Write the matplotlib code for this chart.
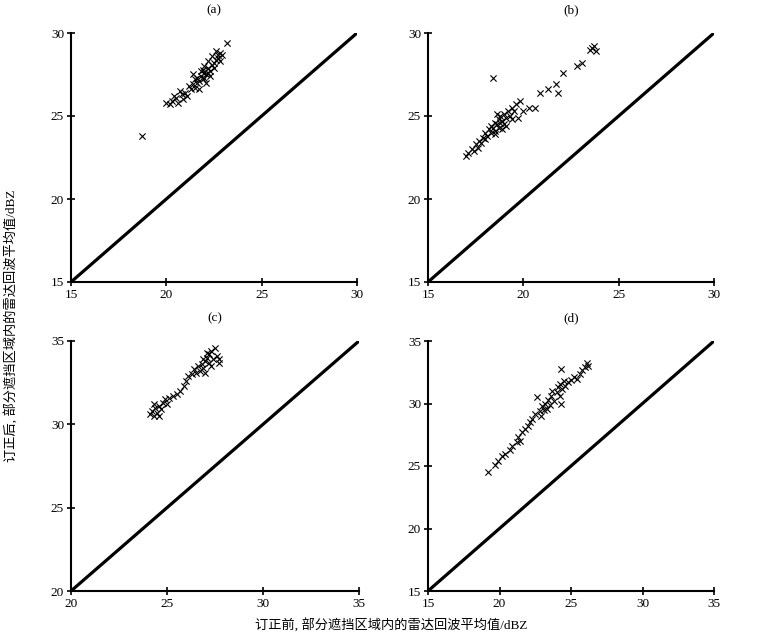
import matplotlib
matplotlib.use('Agg')
import matplotlib.pyplot as plt

plt.rcParams['font.family'] = ['Liberation Serif', 'Noto Sans CJK SC']

# (a)
a_x = [20.0, 20.2, 20.3, 20.5, 20.6, 20.4, 20.8, 20.9, 21.0, 21.1, 21.3, 21.2, 21.4, 21.5,
       21.6, 21.5, 21.7, 21.8, 21.9, 22.0, 21.9, 22.1, 22.2, 22.0, 22.3, 22.4, 22.2, 22.5,
       22.3, 22.1, 22.6, 22.4, 22.7, 22.8, 22.6, 22.9, 23.2, 22.0, 21.7, 20.7, 21.4, 22.5,
       22.8, 21.8, 22.2, 21.6, 22.7, 18.7]
a_y = [25.8, 25.7, 25.9, 26.1, 25.8, 26.2, 26.3, 26.0, 26.4, 26.2, 26.6, 26.8, 26.9, 26.7,
       27.0, 27.2, 27.1, 27.4, 27.2, 27.6, 27.8, 27.5, 27.9, 28.0, 27.7, 28.1, 28.3, 28.2,
       27.4, 27.0, 28.4, 28.6, 28.5, 28.8, 28.9, 28.7, 29.4, 27.3, 26.6, 26.5, 27.5, 27.9,
       28.3, 27.7, 27.6, 27.3, 28.7, 23.8]

# (b)
b_x = [17.0, 17.1, 17.3, 17.4, 17.5, 17.6, 17.7, 17.8, 17.9, 18.0, 18.0, 18.1, 18.2, 18.3,
       18.3, 18.4, 18.5, 18.5, 18.6, 18.7, 18.7, 18.8, 18.8, 18.9, 19.0, 19.0, 19.1, 19.2,
       19.3, 19.4, 19.5, 19.6, 19.8, 19.4, 18.6, 18.4, 19.7, 20.0, 20.3, 20.6, 20.9, 21.3,
       21.7, 21.8, 22.1, 22.8, 23.1, 23.5, 23.7, 23.8, 23.6, 18.9, 18.5, 19.1]
b_y = [22.6, 22.8, 23.0, 22.9, 23.3, 23.1, 23.5, 23.4, 23.7, 23.6, 24.0, 23.8, 24.2, 24.0,
       24.4, 24.3, 24.6, 24.1, 24.5, 24.8, 24.3, 24.6, 25.0, 24.7, 25.1, 24.5, 24.9, 25.3,
       25.0, 25.5, 25.3, 25.7, 25.9, 24.8, 25.1, 27.3, 24.9, 25.3, 25.5, 25.5, 26.4, 26.6,
       26.9, 26.4, 27.6, 28.0, 28.2, 29.0, 29.2, 28.9, 29.1, 24.2, 23.9, 24.4]

# (c)
c_x = [24.1, 24.2, 24.3, 24.4, 24.5, 24.6, 24.7, 24.8, 24.9, 25.0, 25.1, 25.3, 25.5, 25.7,
       25.9, 26.0, 26.1, 26.3, 26.4, 26.5, 26.6, 26.7, 26.8, 26.9, 27.0, 27.0, 27.1, 27.2,
       27.2, 27.3, 27.4, 27.5, 27.6, 27.7, 27.7, 27.3, 26.9, 27.1, 24.3, 24.6]
c_y = [30.6, 30.8, 30.5, 31.0, 30.7, 31.1, 30.9, 31.3, 31.5, 31.2, 31.6, 31.7, 31.8, 32.0,
       32.3, 32.6, 32.9, 33.0, 33.3, 33.1, 33.5, 33.2, 33.6, 33.4, 33.8, 33.1, 34.0, 33.7,
       34.2, 34.4, 33.9, 34.6, 34.1, 33.7, 33.9, 33.5, 33.9, 34.3, 31.2, 30.5]

# (d)
d_x = [19.2, 19.7, 19.9, 20.2, 20.4, 20.7, 20.9, 21.2, 21.3, 21.4, 21.6, 21.8, 22.0, 22.1,
       22.3, 22.5, 22.6, 22.8, 22.9, 23.0, 23.1, 23.2, 23.3, 23.4, 23.5, 23.6, 23.8, 24.0,
       24.1, 24.2, 24.2, 24.3, 24.4, 24.5, 24.6, 24.8, 25.0, 25.2, 25.4, 25.6, 25.8, 26.0,
       26.1, 26.2, 24.3, 23.7]
d_y = [24.5, 25.1, 25.4, 25.8, 26.0, 26.3, 26.6, 26.9, 27.3, 27.0, 27.7, 28.0, 28.2, 28.5,
       28.8, 29.2, 30.5, 29.4, 29.0, 29.8, 29.5, 30.0, 29.6, 30.3, 29.9, 30.6, 30.2, 30.9,
       31.3, 30.6, 31.6, 32.8, 31.2, 31.8, 31.4, 31.7, 31.9, 32.1, 32.0, 32.4, 32.7, 32.9,
       33.2, 33.0, 30.0, 31.0]

panels = [
    ('(a)', a_x, a_y, (15, 30), [15, 20, 25, 30]),
    ('(b)', b_x, b_y, (15, 30), [15, 20, 25, 30]),
    ('(c)', c_x, c_y, (20, 35), [20, 25, 30, 35]),
    ('(d)', d_x, d_y, (15, 35), [15, 20, 25, 30, 35]),
]

W, H = 759, 638
# pixel boxes (left, top, right, bottom) of each panel
rects = [(71, 33, 357, 282), (428, 33, 714, 282),
         (71, 341, 359, 591), (428, 341, 714, 591)]

fig = plt.figure(figsize=(W / 100, H / 100), dpi=100)
fig.patch.set_facecolor('white')

for (title, xs, ys, lim, ticks), (l, t, r, b) in zip(panels, rects):
    ax = fig.add_axes([l / W, 1 - b / H, (r - l) / W, (b - t) / H])
    ax.plot(lim, lim, color='black', linewidth=2.3, solid_capstyle='round', zorder=2)
    ax.scatter(xs, ys, marker='x', s=20, color='black', linewidths=0.8, zorder=3)
    ax.set_xlim(lim)
    ax.set_ylim(lim)
    ax.set_xticks(ticks)
    ax.set_yticks(ticks)
    for s in ['top', 'right']:
        ax.spines[s].set_visible(False)
    for s in ['left', 'bottom']:
        ax.spines[s].set_linewidth(1.5)
    ax.tick_params(direction='inout', length=6, width=1.2, labelsize=9.5, pad=2)
    ax.set_title(title, fontsize=9.5, pad=14)

fig.text(0.016, 0.49, '订正后, 部分遮挡区域内的雷达回波平均值/dBZ', rotation=90,
         ha='center', va='center', fontsize=9.5)
fig.text(0.516, 0.02, '订正前, 部分遮挡区域内的雷达回波平均值/dBZ',
         ha='center', va='center', fontsize=9.5)

fig.savefig('out.png', dpi=100, facecolor='white')
